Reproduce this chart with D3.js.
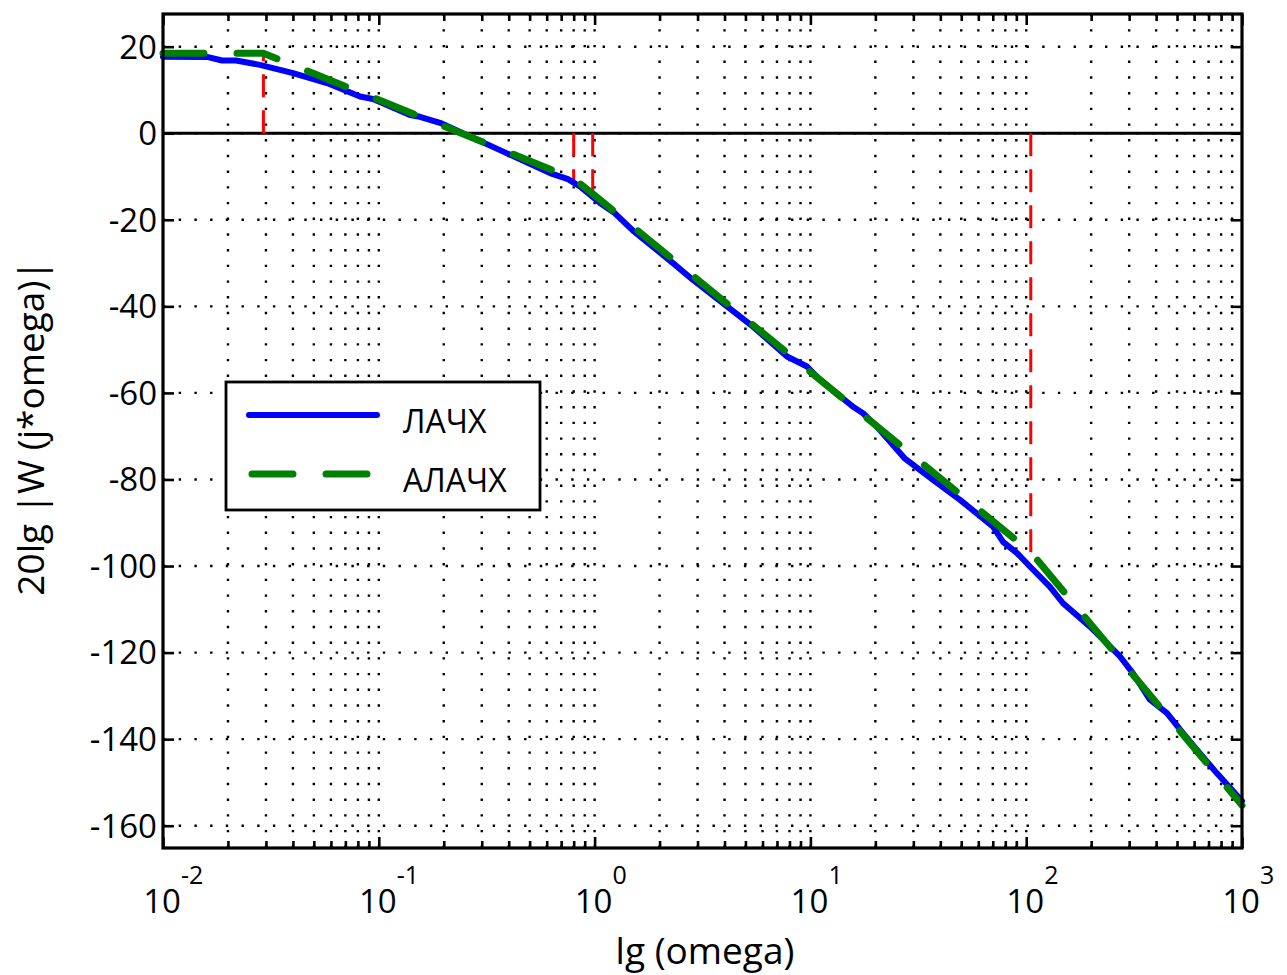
<!DOCTYPE html>
<html><head><meta charset="utf-8">
<script src="https://cdn.jsdelivr.net/npm/d3@7"></script>
<style>
html,body{margin:0;padding:0;background:#fff;}
text{font-family:"Open Sans",sans-serif;fill:#000;}
</style></head>
<body><svg id="chart" width="1287" height="975"></svg>
<script>
// ---- data ----
const omegaL = [0.01,0.01617,0.01877,0.0218,0.02815,0.04003,0.05754,0.08182,0.09399,0.1395,0.1552,0.1921,0.3643,0.6215,0.7528,0.8555,1.059,1.243,1.506,2.308,2.858,4.107,5.42,7.792,9.643,11.08,15.76,17.53,20.35,27.44,36.99,49.35,70.19,78.07,90.67,104.1,128.9,148.1,197.6,272.1,312.6,374.7,449.2,532.8,618.8,765.8,1000];
const lachx  = [17.7,17.6,16.8,16.8,15.8,13.9,11.6,8.5,7.9,4.2,3.8,2.4,-3.9,-9.2,-10.6,-12.3,-16.1,-18.5,-22.5,-30.0,-33.9,-40.0,-44.7,-51.6,-53.9,-57.0,-63.2,-64.7,-67.8,-75.2,-80.1,-84.7,-90.9,-94.4,-97.0,-100.1,-104.8,-108.6,-114.0,-120.9,-124.8,-130.9,-134.0,-138.6,-142.5,-147.9,-154.3];
const omegaA = [0.01,0.0292,0.8,0.98,105,1000];
const alachx = [18.5,18.5,-10.5,-14.0,-96.8,-155.3];
const cornerOmega = [0.0292,0.8,0.98,105];
const cornerValue = [18.5,-10.8,-14.3,-97.0];
const yTicks = [20,0,-20,-40,-60,-80,-100,-120,-140,-160];
const xDecades = [0.01,0.1,1,10,100,1000];
const xExponents = ["-2","-1","0","1","2","3"];
const seriesNames = ["ЛАЧХ","АЛАЧХ"];
const xTitle = "lg (omega)";
const yTitle = "20lg |W (j*omega)|";

// ---- layout ----
const L=163,R=1242,T=14,B=848;
const svg=d3.select("#chart");
const x=d3.scaleLog().domain([0.01,1000]).range([L,R]);
const y=d3.scaleLinear().domain([-165.15,27.55]).range([B,T]);

const minor=[];
for(let d=-2; d<3; d++) for(let k=2;k<=9;k++) minor.push(k*Math.pow(10,d));

// grid
const grid=svg.append("g").attr("stroke","#000").attr("stroke-width",2.4).attr("stroke-dasharray","2.4,13.3");
grid.selectAll("line.v").data(minor.concat(xDecades.slice(1,-1))).join("line")
  .attr("x1",d=>x(d)).attr("x2",d=>x(d)).attr("y1",B).attr("y2",T);
grid.selectAll("line.h").data(yTicks).join("line")
  .attr("x1",L).attr("x2",R).attr("y1",d=>y(d)).attr("y2",d=>y(d));

// zero line
svg.append("line").attr("x1",L).attr("x2",R).attr("y1",y(0)).attr("y2",y(0))
  .attr("stroke","#000").attr("stroke-width",3);

// red corner lines
svg.append("g").selectAll("line").data(cornerOmega).join("line")
  .attr("x1",d=>x(d)).attr("x2",d=>x(d))
  .attr("y1",y(0)).attr("y2",(d,i)=>y(cornerValue[i]))
  .attr("stroke","#ff0000").attr("stroke-width",3).attr("stroke-dasharray","23,13");

// curves
const lineL=d3.line().x((d,i)=>x(omegaL[i])).y(d=>y(d));
svg.append("path").datum(lachx).attr("d",lineL).attr("fill","none")
  .attr("stroke","#0000ff").attr("stroke-width",6).attr("stroke-linejoin","round").attr("stroke-linecap","round");
const lineA=d3.line().x((d,i)=>x(omegaA[i])).y(d=>y(d));
svg.append("path").datum(alachx).attr("d",lineA).attr("fill","none")
  .attr("stroke","#008000").attr("stroke-width",7).attr("stroke-linejoin","round").attr("stroke-linecap","round")
  .attr("stroke-dasharray","41,33");

// axes ticks (inward)
function tickAxis(axis, tr){
  const g=svg.append("g").attr("transform",tr).call(axis);
  g.selectAll("path.domain").remove();
  g.selectAll("text").remove();
  g.selectAll("line").attr("stroke","#000").attr("stroke-width",2.6);
  return g;
}
tickAxis(d3.axisBottom(x).tickValues(xDecades).tickSize(-11),`translate(0,${B})`);
tickAxis(d3.axisBottom(x).tickValues(minor).tickSize(-7),`translate(0,${B})`);
tickAxis(d3.axisTop(x).tickValues(xDecades).tickSize(-11),`translate(0,${T})`);
tickAxis(d3.axisTop(x).tickValues(minor).tickSize(-7),`translate(0,${T})`);
tickAxis(d3.axisLeft(y).tickValues(yTicks).tickSize(-11),`translate(${L},0)`);
tickAxis(d3.axisRight(y).tickValues(yTicks).tickSize(-11),`translate(${R},0)`);

// frame
svg.append("rect").attr("x",L).attr("y",T).attr("width",R-L).attr("height",B-T)
  .attr("fill","none").attr("stroke","#000").attr("stroke-width",3.2);

// y tick labels
svg.append("g").selectAll("text").data(yTicks).join("text")
  .attr("x",157).attr("y",d=>y(d)).attr("dy","0.36em").attr("text-anchor","end")
  .attr("font-size",33).text(d=>d);

// x tick labels
const xl=svg.append("g").selectAll("g").data(xDecades).join("g")
  .attr("transform",d=>`translate(${x(d)},0)`);
xl.append("text").attr("x",-1).attr("y",913).attr("text-anchor","middle").attr("font-size",33).text("10");
xl.append("text").attr("x",18).attr("y",884).attr("text-anchor","start").attr("font-size",25).text((d,i)=>xExponents[i]);

// axis titles
svg.append("text").attr("x",705).attr("y",964).attr("text-anchor","middle").attr("font-size",37).text(xTitle);
svg.append("text").attr("transform","translate(44,428) rotate(-90)").attr("text-anchor","middle").attr("font-size",37).text(yTitle);

// legend
const lg=svg.append("g");
lg.append("rect").attr("x",226).attr("y",382).attr("width",314).attr("height",128)
  .attr("fill","#fff").attr("stroke","#000").attr("stroke-width",2.8);
lg.append("line").attr("x1",249).attr("x2",377).attr("y1",415).attr("y2",415)
  .attr("stroke","#0000ff").attr("stroke-width",6).attr("stroke-linecap","round");
lg.append("line").attr("x1",252).attr("x2",377).attr("y1",474).attr("y2",474)
  .attr("stroke","#008000").attr("stroke-width",7).attr("stroke-linecap","round").attr("stroke-dasharray","41,33");
lg.selectAll("text").data(seriesNames).join("text")
  .attr("x",403).attr("y",(d,i)=>433+i*59).attr("font-size",32).text(d=>d);
</script></body></html>
